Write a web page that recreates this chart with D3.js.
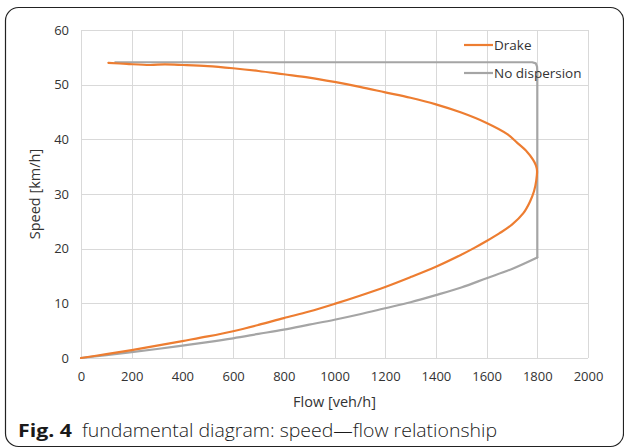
<!DOCTYPE html>
<html>
<head>
<meta charset="utf-8">
<script src="https://cdn.jsdelivr.net/npm/d3@7"></script>
<style>
  html, body { margin: 0; padding: 0; background: #fff; }
  svg { display: block; }
</style>
</head>
<body>
<svg id="chart" width="624" height="448"></svg>
<script>
// ---- data ----
const xTicks = [0, 200, 400, 600, 800, 1000, 1200, 1400, 1600, 1800, 2000];
const yTicks = [0, 10, 20, 30, 40, 50, 60];
const seriesNames = ["Drake", "No dispersion"];

// Drake: from free-flow end, around the nose, down to origin
const drakeFlow  = [108, 180, 272, 330, 402, 500, 600, 700, 800, 900, 1000, 1100, 1200, 1300, 1400, 1500, 1600, 1680, 1720, 1760, 1783, 1795, 1799, 1796, 1787, 1771, 1745, 1700, 1650, 1600, 1550, 1500, 1400, 1300, 1200, 1100, 1000, 900, 800, 700, 600, 500, 400, 300, 200, 100, 0];
const drakeSpeed = [54.0, 53.8, 53.6, 53.7, 53.6, 53.4, 53.0, 52.5, 51.9, 51.3, 50.5, 49.6, 48.6, 47.6, 46.4, 44.9, 43.0, 41.0, 39.4, 37.7, 36.3, 35.2, 34.2, 32.5, 30.5, 28.6, 26.5, 24.4, 22.8, 21.4, 20.1, 18.9, 16.7, 14.8, 13.0, 11.4, 9.9, 8.5, 7.3, 6.05, 4.9, 3.95, 3.1, 2.25, 1.45, 0.7, 0];

// No dispersion: free-flow plateau and capacity edge ...
const noDispTopFlow  = [135, 600, 1000, 1400, 1780, 1794, 1799, 1800, 1800];
const noDispTopSpeed = [54.1, 54.1, 54.1, 54.1, 54.1, 53.9, 53.3, 52.3, 18.4];
// ... and the congested branch back to the origin
const noDispLowFlow  = [1800, 1700, 1600, 1500, 1400, 1300, 1200, 1100, 1000, 900, 800, 700, 600, 500, 400, 300, 200, 100, 0];
const noDispLowSpeed = [18.4, 16.3, 14.6, 12.9, 11.5, 10.2, 9.1, 8.0, 7.0, 6.1, 5.2, 4.4, 3.6, 2.9, 2.27, 1.65, 1.07, 0.52, 0];

const xTitle = "Flow [veh/h]";
const yTitle = "Speed  [km/h]";
const captionBold = "Fig. 4";
const captionText = "fundamental diagram: speed\u2014flow relationship";

// ---- drawing ----
const svg = d3.select("#chart");
const plot = { left: 81, right: 588, top: 30, bottom: 358 };
const colors = { "Drake": "#ED7D31", "No dispersion": "#A5A5A5" };
const textColor = "#333333";
const font = "'Open Sans', 'Noto Sans', sans-serif";

// outer frame
svg.append("rect")
  .attr("x", 5.5).attr("y", 7.5)
  .attr("width", 618).attr("height", 439)
  .attr("rx", 13).attr("ry", 13)
  .attr("fill", "none").attr("stroke", "#222").attr("stroke-width", 1.2);

const x = d3.scaleLinear().domain([0, 2000]).range([plot.left, plot.right]);
const y = d3.scaleLinear().domain([0, 60]).range([plot.bottom, plot.top]);

// grid
const grid = svg.append("g");
grid.selectAll("line.v").data(xTicks).join("line")
  .attr("x1", d => Math.round(x(d)) + 0.5).attr("x2", d => Math.round(x(d)) + 0.5)
  .attr("y1", plot.top).attr("y2", plot.bottom)
  .attr("stroke", "#d9d9d9").attr("stroke-width", 1);
grid.selectAll("line.h").data(yTicks).join("line")
  .attr("x1", plot.left).attr("x2", plot.right)
  .attr("y1", d => Math.round(y(d)) + 0.5).attr("y2", d => Math.round(y(d)) + 0.5)
  .attr("stroke", "#d9d9d9").attr("stroke-width", 1);

// axes (labels only, via d3 axes)
const xAxis = svg.append("g")
  .attr("transform", `translate(0,${plot.bottom})`)
  .call(d3.axisBottom(x).tickValues(xTicks).tickSize(0).tickPadding(14).tickFormat(d3.format("d")));
const yAxis = svg.append("g")
  .attr("transform", `translate(${plot.left},0)`)
  .call(d3.axisLeft(y).tickValues(yTicks).tickSize(0).tickPadding(12).tickFormat(d3.format("d")));
[xAxis, yAxis].forEach(a => {
  a.select(".domain").remove();
  a.selectAll("text")
    .attr("font-family", font).attr("font-size", 13)
    .attr("fill", textColor);
});

// lines
const zip = (a, b) => a.map((v, i) => [v, b[i]]);
const drakeData = zip(drakeFlow, drakeSpeed);
const noDispTop = zip(noDispTopFlow, noDispTopSpeed);
const noDispLow = zip(noDispLowFlow, noDispLowSpeed);

const lineStyle = (sel, color) => sel
  .attr("fill", "none").attr("stroke", color)
  .attr("stroke-width", 2.2).attr("stroke-linejoin", "round").attr("stroke-linecap", "round");

svg.append("path").datum(noDispTop)
  .attr("d", d3.line().x(d => x(d[0])).y(d => y(d[1])).curve(d3.curveLinear))
  .call(lineStyle, colors["No dispersion"]);
svg.append("path").datum(noDispLow)
  .attr("d", d3.line().x(d => x(d[0])).y(d => y(d[1])).curve(d3.curveMonotoneX))
  .call(lineStyle, colors["No dispersion"]);

svg.append("path").datum(drakeData)
  .attr("d", d3.line().x(d => x(d[0])).y(d => y(d[1])).curve(d3.curveCatmullRom.alpha(0.5)))
  .call(lineStyle, colors["Drake"]);

// legend
const legend = svg.append("g");
seriesNames.forEach((name, i) => {
  const ly = 45 + i * 28;
  legend.append("line")
    .attr("x1", 464).attr("x2", 493).attr("y1", ly).attr("y2", ly)
    .attr("stroke", colors[name]).attr("stroke-width", 2.2);
  legend.append("text")
    .attr("x", 494).attr("y", ly).attr("dy", "0.35em")
    .attr("font-family", font).attr("font-size", 13.5).attr("fill", textColor)
    .text(name);
});

// axis titles
svg.append("text")
  .attr("x", (plot.left + plot.right) / 2).attr("y", 402).attr("dy", "0.35em")
  .attr("text-anchor", "middle")
  .attr("font-family", font).attr("font-size", 14.5).attr("fill", textColor)
  .text(xTitle);
svg.append("text")
  .attr("transform", `translate(35,194) rotate(-90)`)
  .attr("text-anchor", "middle").attr("dy", "0.35em")
  .attr("font-family", font).attr("font-size", 14.5).attr("fill", textColor)
  .text(yTitle);

// caption
svg.append("text")
  .attr("x", 18).attr("y", 437)
  .attr("font-family", font).attr("font-size", 18.5).attr("font-weight", "bold").attr("fill", "#1a1a1a")
  .attr("textLength", 54).attr("lengthAdjust", "spacingAndGlyphs")
  .text(captionBold);
svg.append("text")
  .attr("x", 82).attr("y", 437)
  .attr("font-family", font).attr("font-size", 18.5).attr("font-weight", 300).attr("fill", "#1a1a1a")
  .attr("textLength", 415).attr("lengthAdjust", "spacingAndGlyphs")
  .text(captionText);
</script>
</body>
</html>
